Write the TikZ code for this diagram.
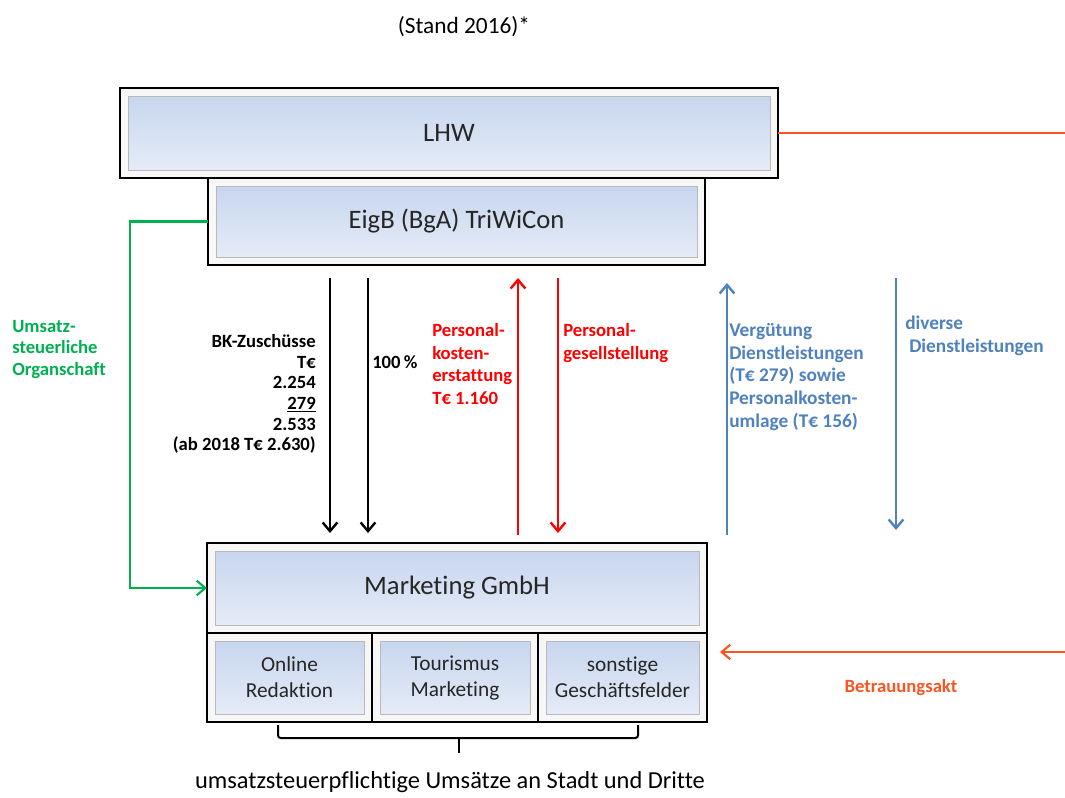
\documentclass[tikz,border=0pt]{standalone}
\usepackage{fontspec}
\setmainfont[Ligatures=NoCommon]{Carlito}
\usepackage{xcolor}
\usepackage{tikz}
\usetikzlibrary{arrows.meta,positioning,calc}

\definecolor{panelTop}{RGB}{196,211,237}
\definecolor{panelBot}{RGB}{232,238,248}
\definecolor{organGreen}{RGB}{0,176,80}
\definecolor{dlBlue}{RGB}{79,129,189}
\definecolor{betrOrange}{RGB}{250,85,35}
\definecolor{pkRed}{RGB}{255,0,0}

\begin{document}
\begin{tikzpicture}[
    x=0.75pt, y=-0.75pt,
    box/.style={draw, line width=2.2pt, fill=gray!6, inner sep=0pt, outer sep=0pt,
                text=black!85, font=\fontsize{20}{24}\selectfont,
                path picture={\shade[top color=panelTop, bottom color=panelBot, draw=gray!55, line width=0.6pt]
                   ([shift={(6pt,-6pt)}]path picture bounding box.north west) rectangle
                   ([shift={(-6pt,6pt)}]path picture bounding box.south east);}},
    cell/.style={box, align=center, minimum height=66.75pt, font=\fontsize{16}{19.5}\selectfont},
    lab/.style={inner sep=0pt, font=\bfseries\fontsize{14}{17}\selectfont},
    arr/.style={line width=1.8pt, -{Straight Barb[length=6.5pt,width=11pt]}},
    down/.style={arr, shorten <=9.75pt, shorten >=7.5pt},
    up/.style={arr, shorten <=6pt, shorten >=9.75pt},
    ]
\useasboundingbox (0,0) rectangle (1065,797);

\node[font=\fontsize{17.5}{21}\selectfont] (stand) at (464,27) {(Stand 2016)*};

% Beteiligungsstruktur
\node[box, anchor=north west, minimum width=493.5pt, minimum height=67.5pt] (lhw) at (120,88) {LHW};
\node[box, anchor=north west, minimum width=372.75pt, minimum height=65.25pt] (eigb) at (208,178) {EigB (BgA) TriWiCon};
\node[box, anchor=north west, minimum width=375pt, minimum height=67.5pt] (mkt) at (207,543) {Marketing GmbH};
\node[cell, anchor=north west, minimum width=123.75pt] (online) at (mkt.south west) {Online\\Redaktion};
\node[cell, right=0pt of online, minimum width=124.5pt] (tour) {Tourismus\\Marketing};
\node[cell, right=0pt of tour, minimum width=126.75pt] (sonst) {sonstige\\Geschäftsfelder};

% Stroeme zwischen EigB und GmbH
\draw[down] (eigb.south -| 330,0) -- (mkt.north -| 330,0);
\draw[down] (eigb.south -| 368,0) -- (mkt.north -| 368,0);
\draw[up, pkRed] (mkt.north -| 518,0) -- (eigb.south -| 518,0);
\draw[down, pkRed] (eigb.south -| 558,0) -- (mkt.north -| 558,0);
\draw[up, dlBlue, shorten >=13.5pt] (mkt.north -| 727,0) -- (eigb.south -| 727,0);
\draw[down, dlBlue, shorten >=9.75pt] (eigb.south -| 896,0) -- (mkt.north -| 896,0);

\node[lab, anchor=north east, align=right, font=\bfseries\fontsize{14}{15.5}\selectfont] (bk) at (316,334)
     {BK-Zuschüsse\\T€\\2.254\\\underline{279}\\2.533\\(ab 2018 T€ 2.630)};
\node[lab, anchor=north west] (hundert) at (372,355) {100\,\%};
\node[lab, pkRed, anchor=north west, align=left] (pke) at (432,323) {Personal-\\kosten-\\erstattung\\T€ 1.160};
\node[lab, pkRed, anchor=north west, align=left] (pgs) at (563,323) {Personal-\\gesellstellung};
\node[lab, dlBlue, anchor=north west, align=left, font=\bfseries\fontsize{14.5}{17}\selectfont] (verg) at (729,323)
     {Vergütung\\Dienstleistungen\\(T€ 279) sowie\\Personalkosten-\\umlage (T€ 156)};
\node[lab, dlBlue, anchor=north west, align=left, font=\bfseries\fontsize{14.5}{17}\selectfont] (div) at (905,316)
     {diverse\\\hspace{3pt}Dienstleistungen};

% Organschaft
\draw[arr, organGreen, line width=1.6pt] (eigb.west) -- ++(-78,0) |- (mkt.west);
\node[lab, organGreen, anchor=north west, align=left, font=\bfseries\fontsize{14}{16}\selectfont] (organ) at (12,320)
     {Umsatz-\\steuerliche\\Organschaft};

% Betrauung
\coordinate (rand) at (1065,652);
\draw[betrOrange, line width=1.6pt] (lhw.east) -- (lhw.east -| rand);
\draw[arr, betrOrange, line width=1.6pt, shorten >=9.75pt] (rand) -- (sonst.east |- rand);
\node[lab, betrOrange] (betr) at (901,688) {Betrauungsakt};

% Klammer
\draw[line width=1.5pt, rounded corners=2pt] ($(online.south west)+(71,3)$) |- ($(sonst.south west)+(100,16)$) -- ($(sonst.south west)+(100,3)$);
\draw[line width=1.5pt] ($(online.south west)+(252,16)$) -- ++(0,15);
\node[font=\fontsize{18.3}{22}\selectfont] (umsatz) at (450,782) {umsatzsteuerpflichtige Umsätze an Stadt und Dritte};
\end{tikzpicture}
\end{document}
